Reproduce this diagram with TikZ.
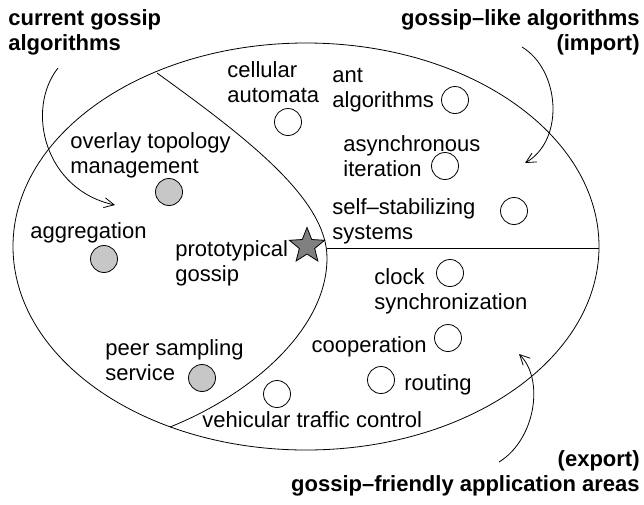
\documentclass[tikz,border=0pt]{standalone}
\usepackage{fontspec}
\setmainfont{Liberation Sans}
\usetikzlibrary{shapes.geometric,arrows.meta}
\tikzset{>={Straight Barb[length=10pt,width=10pt]}}
\tikzset{
  spot/.style={circle,draw,minimum size=27pt,inner sep=0pt,fill=white},
  known/.style={spot,fill=black!22},
  lbl/.style={anchor=base west,inner sep=0pt,align=left,font=\fontsize{22}{25}\selectfont},
  head/.style={lbl,font=\fontsize{22}{25}\selectfont\bfseries},
}

\begin{document}
\begin{tikzpicture}[x=1pt,y=-1pt,line width=0.8pt]
    \useasboundingbox (0,0) rectangle (644,504);
    \draw (306,246.5) ellipse (293 and 203.5);
    \coordinate (top) at (157,73);
    \coordinate (bot) at (170,427);
    \coordinate (nose) at (327,258);
    \draw (top) .. controls (250,140) and (327,200) .. (nose)
    .. controls (327,330) and (250,395) .. (bot);
    \coordinate (cut) at (326.5,248);
    \coordinate (rim) at (599,248);
    \draw (cut) -- (rim);
    % spots
    \node[spot] (cell) at (288,122) {};
    \node[spot] (ant) at (455,100) {};
    \node[spot] (asyn) at (445,166) {};
    \node[spot] (self) at (514,211) {};
    \node[spot] (clock) at (450,273) {};
    \node[spot] (coop) at (448,338) {};
    \node[spot] (rout) at (381,380) {};
    \node[spot] (vehi) at (277,394) {};
    \node[known] (over) at (169,192) {};
    \node[known] (aggr) at (104,259) {};
    \node[known] (peer) at (202,378) {};
    \node[star,star points=5,star point ratio=2.3,minimum size=37pt,inner sep=0pt,draw,fill=black!50] (proto) at (307,246) {};
    % labels (y = baseline of last line)
    \node[lbl] (cellt) at (227,102) {cellular\\automata};
    \node[lbl] (antt) at (332,107) {ant\\algorithms};
    \node[lbl] (asynt) at (343,176) {asynchronous\\iteration};
    \node[lbl] (selft) at (332,239) {self\textendash stabilizing\\systems};
    \node[lbl] (overt) at (70,173) {overlay topology\\management};
    \node[lbl] (aggrt) at (30,238) {aggregation};
    \node[lbl] (protot) at (175,281) {prototypical\\gossip};
    \node[lbl] (peert) at (105,380) {peer sampling\\service};
    \node[lbl] (vehit) at (202,427) {vehicular traffic control};
    \node[lbl] (clockt) at (374,309) {clock\\synchronization};
    \node[lbl,anchor=base east] (coopt) at (427,352) {cooperation};
    \node[lbl] (routt) at (404,390) {routing};
    \node[head] (curt) at (8,50) {current gossip\\algorithms};
    \node[head,anchor=base east,align=right] (impt) at (640,50) {gossip\textendash like algorithms\\(import)};
    \node[head,anchor=base east,align=right] (expt) at (640,491) {(export)\\gossip\textendash friendly application areas};
    % arrows
    \coordinate (curfrom) at (58,68);
    \coordinate (curto) at (115,205);
    \draw[->] (curfrom) .. controls (25,110) and (45,190) .. (curto);
    \coordinate (impfrom) at (522,47);
    \coordinate (impto) at (525,163);
    \draw[->] (impfrom) .. controls (560,70) and (565,140) .. (impto);
    \coordinate (expfrom) at (499,462);
    \coordinate (expto) at (519,354);
    \draw[->] (expfrom) .. controls (535,440) and (545,380) .. (expto);
\end{tikzpicture}
\end{document}
